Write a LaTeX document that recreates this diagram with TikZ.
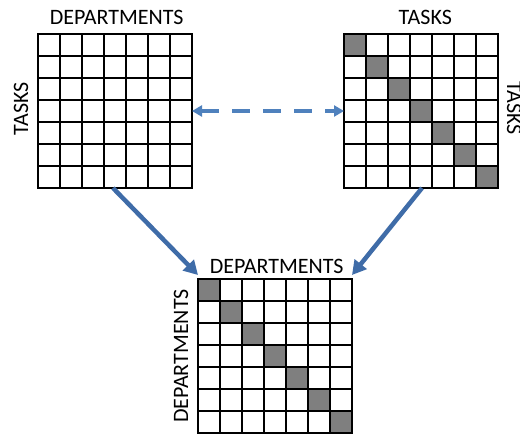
\documentclass[tikz,border=0pt]{standalone}
\usepackage{fontspec}
\setmainfont{Carlito}
\usetikzlibrary{arrows.meta}
\definecolor{arrowblue}{HTML}{3F6CA8}
\definecolor{dashblue}{HTML}{4F81BD}
\definecolor{cellgray}{HTML}{7F7F7F}

% 7x7 grid drawn inside a named square node; #2 = 1 shades the diagonal
\newcommand{\cellgrid}[2]{%
  \begin{scope}[shift={(#1.north west)}]
    \fill[white] (0,0) rectangle (154,154);
    \foreach \i in {1,...,6} {
      \draw[line width=1.5pt] (\i*22,0) -- (\i*22,154);
      \draw[line width=1.5pt] (0,\i*22) -- (154,\i*22);
    }
    \ifnum#2=1
      \foreach \i in {0,...,6}
        \draw[fill=cellgray, line width=2.2pt] (\i*22,\i*22) rectangle ++(22,22);
    \fi
    \draw[line width=2.6pt] (0,0) rectangle (154,154);
  \end{scope}}

\begin{document}
\begin{tikzpicture}[x=1pt,y=-1pt,
  matrixbox/.style={minimum size=154pt, inner sep=0pt, outer sep=0pt},
  lbl/.style={font=\fontsize{22}{22}\selectfont, inner sep=0pt, anchor=base},
  flow/.style={draw=arrowblue, line width=4.5pt, -{Triangle[length=14pt,width=15pt]}},
  link/.style={draw=dashblue, line width=4pt, dash pattern=on 18pt off 13pt,
    {Triangle[length=10pt,width=11pt]}-{Triangle[length=10pt,width=11pt]}},
]
\fill[white] (0,0) rectangle (520,434);
\useasboundingbox (0,0) rectangle (520,434);
\clip (0,0) rectangle (520,434);

% matrices
\node[matrixbox] (dt) at (115,111) {};
\node[matrixbox] (tt) at (421,111) {};
\node[matrixbox] (dd) at (275,356) {};
\cellgrid{dt}{0}
\cellgrid{tt}{1}
\cellgrid{dd}{1}

% axis labels
\node[lbl] (dtTop) at (116.7,24) {DEPARTMENTS};
\node[lbl, rotate=90] (dtSide) at (28,109) {TASKS};
\node[lbl] (ttTop) at (425.3,24) {TASKS};
\node[lbl, rotate=-90] (ttSide) at (507,108) {TASKS};
\node[lbl] (ddTop) at (276.7,273) {DEPARTMENTS};
\node[lbl, rotate=90] (ddSide) at (188,356) {DEPARTMENTS};

% connectors
\draw[link] (dt.east) -- (tt.west);
\draw[flow] ([xshift=-2pt]dt.south) -- ([yshift=4pt]dd.north west);
\draw[flow] ([xshift=1pt]tt.south) -- ([yshift=4pt]dd.north east);
\end{tikzpicture}
\end{document}
